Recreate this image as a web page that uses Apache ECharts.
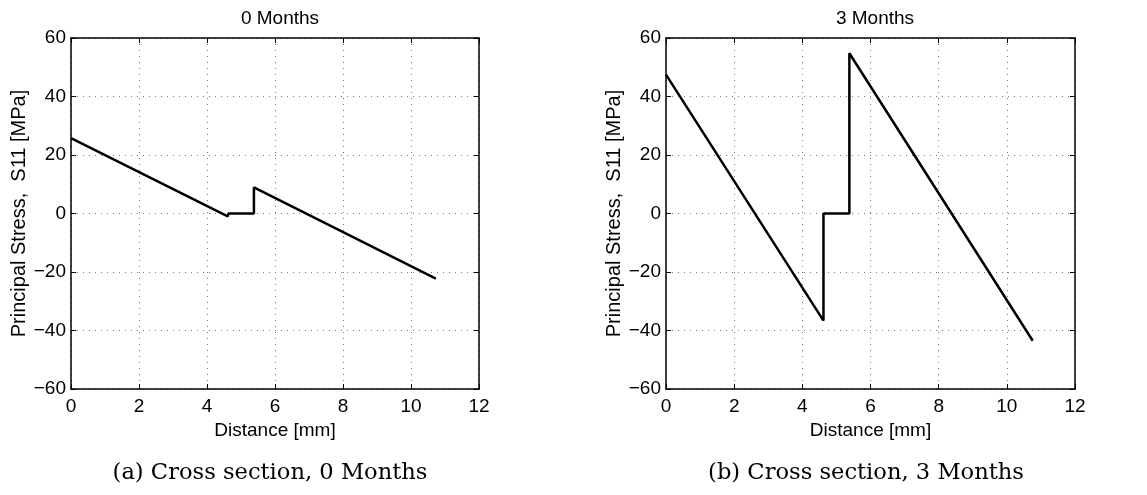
<!DOCTYPE html>
<html>
<head>
<meta charset="utf-8">
<title>Cross section stress</title>
<script src="https://cdn.jsdelivr.net/npm/echarts@6/dist/echarts.min.js"></script>
<style>
    html, body { margin: 0; padding: 0; background: #fff; }
    #stressChart { width: 1147px; height: 495px; }
</style>
</head>
<body>
<div id="stressChart"></div>
<script>
/* 数据 -- 每个子图的折线拐点 */
var dist0 = [0, 4.61, 4.63, 5.38, 5.38, 10.73];
var s11_0 = [25.8, -1.0, 0, 0, 8.9, -22.3];
var dist3 = [0, 4.62, 4.62, 5.38, 5.38, 10.76];
var s11_3 = [47.5, -36.6, 0, 0, 54.8, -43.5];

var xTicks = [0, 2, 4, 6, 8, 10, 12];
var yTicks = [-60, -40, -20, 0, 20, 40, 60];

var panelTitles = ['0 Months', '3 Months'];
var captions = ['(a) Cross section, 0 Months', '(b) Cross section, 3 Months'];

var sansFont = '"Liberation Sans", Arial, sans-serif';
var serifFont = '"DejaVu Serif", serif';

function toPairs(xs, ys) {
    var arr = [];
    for (var i = 0; i < xs.length; i++) {
        arr.push([xs[i], ys[i]]);
    }
    return arr;
}

// MATLAB 风格的负号
function fmtTick(v) {
    return String(v).replace('-', '\u2212');
}

var grids = [
    { left: 71, top: 38, width: 408, height: 351 },
    { left: 666, top: 38, width: 409, height: 351 }
];

var xAxes = [];
var yAxes = [];
for (var g = 0; g < 2; g++) {
    // 主坐标轴（底部 / 左侧）
    xAxes.push({
        gridIndex: g,
        type: 'value',
        min: xTicks[0],
        max: xTicks[xTicks.length - 1],
        interval: 2,
        name: 'Distance [mm]',
        nameLocation: 'middle',
        nameGap: 29,
        nameTextStyle: { fontFamily: sansFont, fontSize: 19, color: '#000' },
        axisLine: { show: true, onZero: false, lineStyle: { color: '#000', width: 1.5 } },
        axisTick: { show: true, inside: true, length: 5, lineStyle: { color: '#000' } },
        axisLabel: { fontFamily: sansFont, fontSize: 19, color: '#000', margin: 8, formatter: fmtTick },
        splitLine: { show: true, lineStyle: { color: '#777', width: 1, type: [1, 5] } }
    });
    yAxes.push({
        gridIndex: g,
        type: 'value',
        min: yTicks[0],
        max: yTicks[yTicks.length - 1],
        interval: 20,
        name: 'Principal Stress,  S11 [MPa]',
        nameLocation: 'middle',
        nameGap: 42,
        nameTextStyle: { fontFamily: sansFont, fontSize: 20, color: '#000' },
        axisLine: { show: true, onZero: false, lineStyle: { color: '#000', width: 1.5 } },
        axisTick: { show: true, inside: true, length: 5, lineStyle: { color: '#000' } },
        axisLabel: { fontFamily: sansFont, fontSize: 19, color: '#000', margin: 5, formatter: fmtTick },
        splitLine: { show: true, lineStyle: { color: '#777', width: 1, type: [1, 5] } }
    });
    // 镜像坐标轴（顶部 / 右侧），只画框线和刻度
    xAxes.push({
        gridIndex: g,
        type: 'value',
        position: 'top',
        min: xTicks[0],
        max: xTicks[xTicks.length - 1],
        interval: 2,
        axisLine: { show: true, onZero: false, lineStyle: { color: '#000', width: 1.5 } },
        axisTick: { show: true, inside: true, length: 5, lineStyle: { color: '#000' } },
        axisLabel: { show: false },
        splitLine: { show: false }
    });
    yAxes.push({
        gridIndex: g,
        type: 'value',
        position: 'right',
        min: yTicks[0],
        max: yTicks[yTicks.length - 1],
        interval: 20,
        axisLine: { show: true, onZero: false, lineStyle: { color: '#000', width: 1.5 } },
        axisTick: { show: true, inside: true, length: 5, lineStyle: { color: '#000' } },
        axisLabel: { show: false },
        splitLine: { show: false }
    });
}

var lineStyle = { color: '#000', width: 2.5 };

var option = {
    backgroundColor: '#fff',
    animation: false,
    title: [
        { text: panelTitles[0], left: 275, top: 4, textAlign: 'center',
          textStyle: { fontFamily: sansFont, fontSize: 19, fontWeight: 'normal', color: '#000' } },
        { text: panelTitles[1], left: 870, top: 4, textAlign: 'center',
          textStyle: { fontFamily: sansFont, fontSize: 19, fontWeight: 'normal', color: '#000' } },
        { text: captions[0], left: 265, top: 457, textAlign: 'center',
          textStyle: { fontFamily: serifFont, fontSize: 22.6, fontWeight: 'normal', color: '#000' } },
        { text: captions[1], left: 861, top: 457, textAlign: 'center',
          textStyle: { fontFamily: serifFont, fontSize: 22.6, fontWeight: 'normal', color: '#000' } }
    ],
    grid: grids,
    xAxis: xAxes,
    yAxis: yAxes,
    series: [
        {
            name: panelTitles[0],
            type: 'line',
            xAxisIndex: 0,
            yAxisIndex: 0,
            data: toPairs(dist0, s11_0),
            showSymbol: false,
            lineStyle: lineStyle
        },
        {
            name: panelTitles[1],
            type: 'line',
            xAxisIndex: 2,
            yAxisIndex: 2,
            data: toPairs(dist3, s11_3),
            showSymbol: false,
            lineStyle: lineStyle
        }
    ]
};

var myChart = echarts.init(document.getElementById('stressChart'));
myChart.setOption(option);
</script>
</body>
</html>
